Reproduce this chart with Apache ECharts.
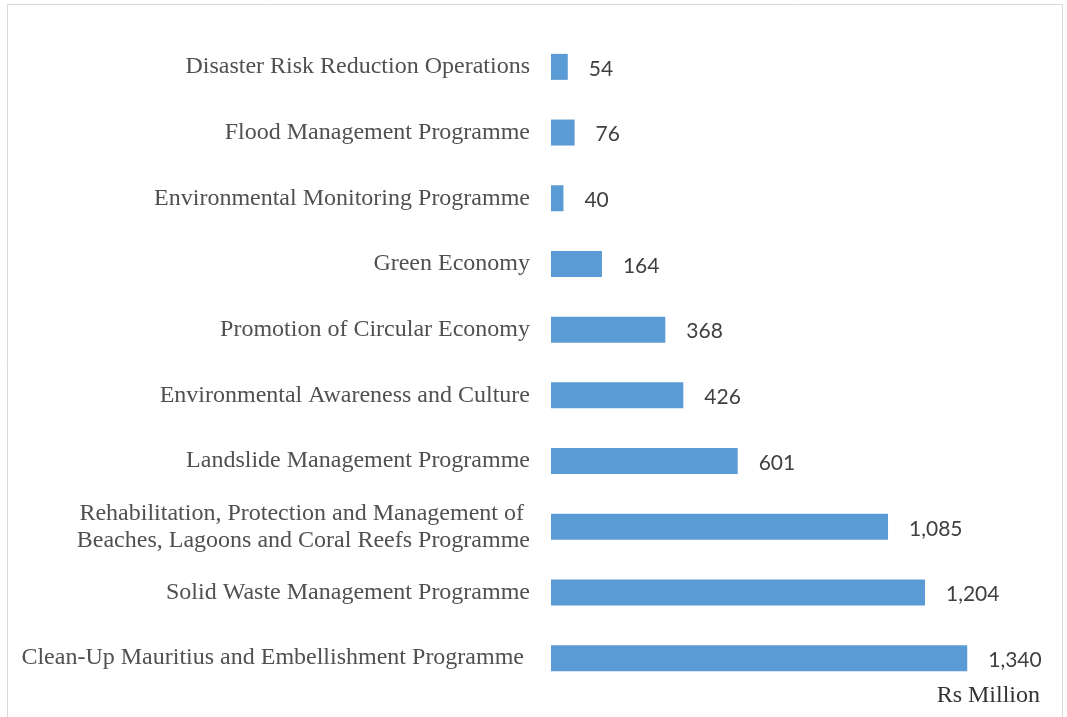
<!DOCTYPE html>
<html>
<head>
<meta charset="utf-8">
<script src="https://cdn.jsdelivr.net/npm/echarts@6/dist/echarts.min.js"></script>
<style>html,body{margin:0;padding:0;background:#fff}#c{width:1067px;height:717px}</style>
</head>
<body>
<div id="c"></div>
<script>
var categories = [
  "Disaster Risk Reduction Operations",
  "Flood Management Programme",
  "Environmental Monitoring Programme",
  "Green Economy",
  "Promotion of Circular Economy",
  "Environmental Awareness and Culture",
  "Landslide Management Programme",
  "Rehabilitation, Protection and Management of \nBeaches, Lagoons and Coral Reefs Programme",
  "Solid Waste Management Programme",
  "Clean-Up Mauritius and Embellishment Programme "
];
var values = [54, 76, 40, 164, 368, 426, 601, 1085, 1204, 1340];
var unitLabel = "Rs Million";

var chart = echarts.init(document.getElementById('c'));
chart.setOption({
  animation: false,
  grid: {left: 551, right: 19, top: 34, bottom: 26},
  xAxis: {type: 'value', min: 0, max: 1600, show: false},
  yAxis: {
    type: 'category', data: categories, inverse: true,
    axisLine: {show: false}, axisTick: {show: false},
    axisLabel: {
      margin: 21, fontFamily: 'Liberation Serif', fontSize: 24,
      color: '#505050', lineHeight: 27, align: 'right', padding: [3, 0, 0, 0]
    }
  },
  series: [{
    type: 'bar', data: values, barWidth: 26,
    itemStyle: {color: '#5b9bd5'},
    label: {
      show: true, position: 'right', distance: 21, offset: [0, 2],
      fontFamily: 'Lato', fontSize: 21, color: '#404040',
      formatter: function (p) { return p.value.toLocaleString('en-US'); }
    }
  }],
  graphic: [
    {type: 'rect', shape: {x: 7.5, y: 4.5, width: 1055, height: 740},
     style: {fill: 'none', stroke: '#d9d9d9', lineWidth: 1}, silent: true},
    {type: 'text', right: 27, top: 684,
     style: {text: unitLabel, font: '24px "Liberation Serif"', fill: '#333'}}
  ]
});
</script>
</body>
</html>
